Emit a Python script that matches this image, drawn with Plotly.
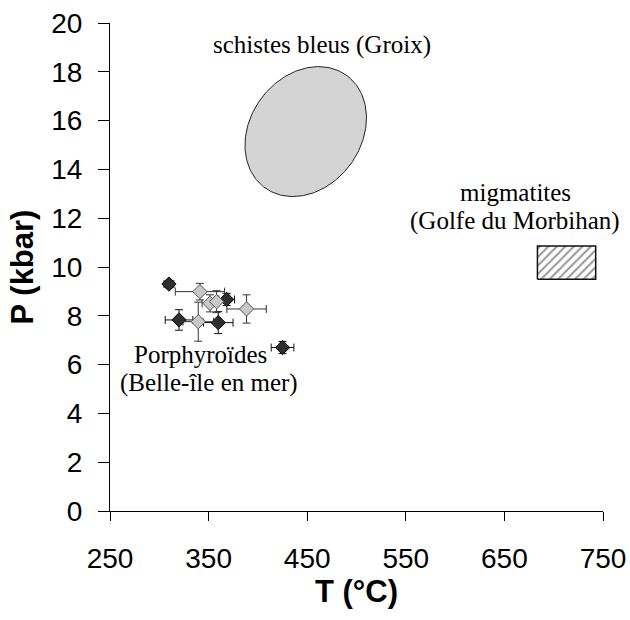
import numpy as np
import plotly.graph_objects as go

# ---- data ----
dark_T = [309.8, 368.3, 320.0, 359.8, 425.0]
dark_P = [9.30, 8.67, 7.83, 7.72, 6.70]
dark_eT = [5, 8, 14, 15, 11.5]
dark_eP = [0.15, 0.25, 0.42, 0.45, 0.25]

gray_T = [341.2, 351.4, 358.1, 388.5, 339.5]
gray_P = [8.99, 8.51, 8.58, 8.28, 7.76]
gray_eT = [25, 8, 8, 20, 15.5]
gray_eP = [0.34, 0.35, 0.45, 0.58, 0.80]

# blue-schist field (ellipse): centre (T, P), semi-axes in screen px, tilt in degrees
ell_center = [448.5, 15.55]
ell_axes_px = [69.5, 55.5]
ell_tilt_deg = 53.8

# migmatite field (rectangle)
mig_T = [683.5, 742.6]
mig_P = [9.5, 10.86]

x_ticks = [250, 350, 450, 550, 650, 750]
y_ticks = [0, 2, 4, 6, 8, 10, 12, 14, 16, 18, 20]

W, H = 630, 620
ML, MR, MT, MB = 110, 27, 23, 109
x_range = [250, 750]
y_range = [0, 20]
sx = (W - ML - MR) / (x_range[1] - x_range[0])
sy = (H - MT - MB) / (y_range[1] - y_range[0])

fig = go.Figure()

# ellipse
t = np.linspace(0, 2 * np.pi, 241)
th = np.deg2rad(ell_tilt_deg)
a, b = ell_axes_px
dx = a * np.cos(t) * np.cos(th) - b * np.sin(t) * np.sin(th)
dy = a * np.cos(t) * np.sin(th) + b * np.sin(t) * np.cos(th)
fig.add_trace(go.Scatter(
    x=ell_center[0] + dx / sx, y=ell_center[1] + dy / sy,
    mode="lines", fill="toself", fillcolor="#d4d4d4",
    line=dict(color="#222", width=1), hoverinfo="skip", showlegend=False))

# rectangle
fig.add_trace(go.Scatter(
    x=[mig_T[0], mig_T[1], mig_T[1], mig_T[0], mig_T[0]],
    y=[mig_P[0], mig_P[0], mig_P[1], mig_P[1], mig_P[0]],
    mode="lines", fill="toself", fillcolor="white",
    fillpattern=dict(shape="/", size=6, solidity=0.35, fgcolor="#333", bgcolor="white"),
    line=dict(color="#111", width=1.5), hoverinfo="skip", showlegend=False))

# dark points
fig.add_trace(go.Scatter(
    x=dark_T, y=dark_P, mode="markers",
    error_x=dict(type="data", array=dark_eT, color="#111", thickness=1, width=4),
    error_y=dict(type="data", array=dark_eP, color="#111", thickness=1, width=4),
    marker=dict(symbol="diamond", size=11, color="#2e2e2e", line=dict(color="#000", width=1)),
    showlegend=False))

# gray points
fig.add_trace(go.Scatter(
    x=gray_T, y=gray_P, mode="markers",
    error_x=dict(type="data", array=gray_eT, color="#333", thickness=1, width=4),
    error_y=dict(type="data", array=gray_eP, color="#333", thickness=1, width=4),
    marker=dict(symbol="diamond", size=11, color="#c8c8c8", line=dict(color="#555", width=1)),
    showlegend=False))

serif = "Liberation Serif, Times New Roman, serif"
ann = [
    ("schistes bleus (Groix)", 464.6, 19.08),
    ("migmatites", 661.5, 13.06),
    ("(Golfe du Morbihan)", 660.5, 11.89),
    ("Porphyroïdes", 341.7, 6.43),
    ("(Belle-île en mer)", 350.9, 5.26),
]
for txt, ax_, ay_ in ann:
    fig.add_annotation(x=ax_, y=ay_, text=txt, showarrow=False,
                       font=dict(family=serif, size=25, color="#000"),
                       xanchor="center", yanchor="middle")

sans = "Liberation Sans, Arial, sans-serif"
fig.update_layout(
    width=W, height=H,
    margin=dict(l=ML, r=MR, t=MT, b=MB),
    paper_bgcolor="white", plot_bgcolor="white",
    font=dict(family=sans, color="#000"),
)
fig.update_xaxes(
    range=x_range, tickvals=x_ticks, ticktext=[str(v) for v in x_ticks],
    showgrid=False, zeroline=False, showline=True, linecolor="#000", linewidth=1,
    ticks="outside", ticklen=9, tickcolor="#000",
    tickfont=dict(family=sans, size=28), ticklabelstandoff=13,
    ticklabeloverflow="allow",
    title=dict(text="<b>T (°C)</b>", font=dict(family=sans, size=31), standoff=0),
    automargin=False,
)
fig.update_yaxes(
    range=y_range, tickvals=y_ticks, ticktext=[str(v) for v in y_ticks],
    showgrid=False, zeroline=False, showline=True, linecolor="#000", linewidth=1,
    ticks="outside", ticklen=11, tickcolor="#000",
    tickfont=dict(family=sans, size=28), ticklabelstandoff=10,
    ticklabeloverflow="allow",
    title=dict(text="<b>P (kbar)</b>", font=dict(family=sans, size=31), standoff=8),
    automargin=False,
)

# remove the default 8px page margin so the 630x620 figure fills the window exactly
fig.write_html("out.html", config={"displayModeBar": False},
               post_script="document.body.style.margin='0';")
